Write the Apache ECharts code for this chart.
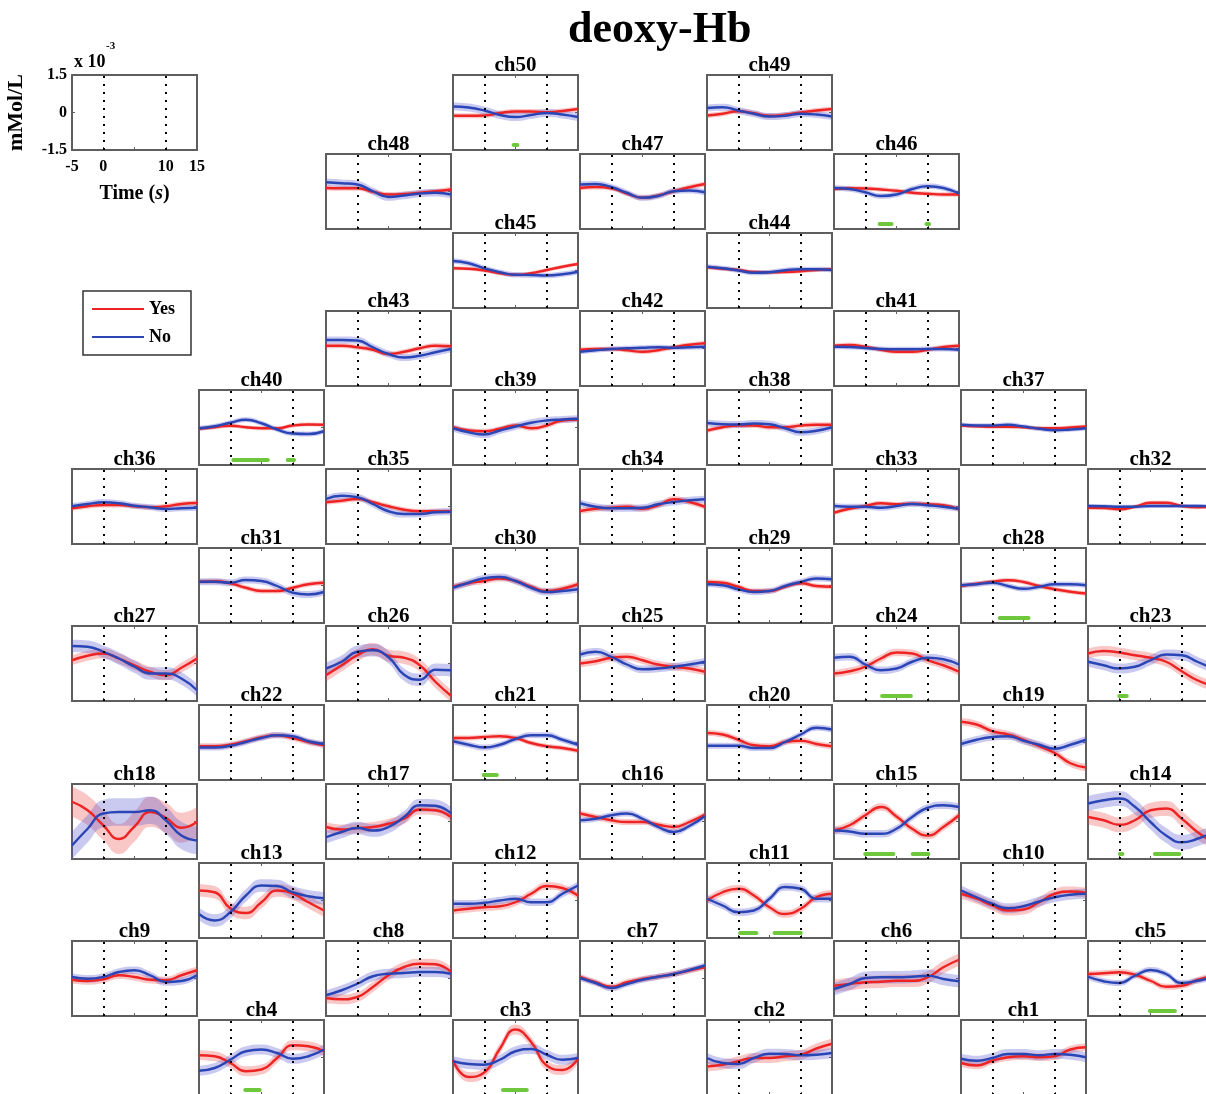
<!DOCTYPE html>
<html>
<head>
<meta charset="utf-8">
<title>deoxy-Hb</title>
<script src="https://cdn.jsdelivr.net/npm/echarts@6.0.0/dist/echarts.min.js"></script>
<style>
html,body{margin:0;padding:0;background:#ffffff;}
#chart{width:1206px;height:1094px;}
</style>
</head>
<body>
<div id="chart"></div>
<script>
// ---------------- DATA (units: x10^-3 mMol/L) ----------------
const timeS = [-5, -2.5, 0, 2.5, 5, 7.5, 10, 12.5, 15];
const stimulusOnOff = [0, 10];
const keyXTicks = [-5, 0, 10, 15];
const keyYTicks = [-1.5, 0, 1.5];

const yesCh1 = [-0.22,-0.32,-0.13,0.01,0.05,0.01,0.05,0.32,0.41];
const noCh1  = [-0.05,-0.13,-0.02,0.14,0.14,0.09,0.14,0.11,0.01];
const yesCh2 = [-0.36,-0.29,-0.15,-0.02,-0.02,0.05,0.11,0.36,0.55];
const noCh2  = [-0.02,-0.22,-0.26,-0.02,0.15,0.14,0.09,0.11,0.18];
const yesCh3 = [-0.12,-0.78,-0.6,0.35,1.12,0.62,-0.32,-0.5,-0.05];
const noCh3  = [-0.15,-0.26,-0.29,-0.09,0.25,0.34,0.11,-0.09,-0.02];
const yesCh4 = [0.09,0.05,-0.22,-0.55,-0.48,-0.02,0.49,0.45,0.25];
const noCh4  = [-0.53,-0.42,-0.09,0.25,0.32,0.18,-0.05,0.05,0.32];
const yesCh5 = [0.18,0.21,0.25,0.15,-0.09,-0.33,-0.29,-0.06,0.11];
const noCh5  = [0.07,-0.11,-0.18,0.11,0.34,0.18,-0.18,-0.09,0.05];
const yesCh6 = [-0.29,-0.22,-0.15,-0.13,-0.09,-0.09,0.05,0.45,0.75];
const noCh6  = [-0.42,-0.22,0.02,0.05,0.05,0.07,0.11,-0.02,-0.11];
const yesCh7 = [0.07,-0.15,-0.33,-0.15,-0.02,0.07,0.18,0.32,0.45];
const noCh7  = [0.02,-0.18,-0.38,-0.22,-0.05,0.07,0.18,0.34,0.52];
const yesCh8 = [-0.78,-0.83,-0.74,-0.34,0.13,0.46,0.59,0.57,0.26];
const noCh8  = [-0.67,-0.47,-0.21,0.09,0.19,0.22,0.26,0.26,0.19];
const yesCh9 = [-0.05,-0.1,-0.03,0.13,0.06,-0.05,-0.07,0.13,0.33];
const noCh9  = [0.06,-0.01,0.06,0.26,0.33,0.13,-0.14,-0.1,0.13];
const yesCh10 = [0.27,0.07,-0.2,-0.4,-0.36,-0.07,0.27,0.36,0.31];
const noCh10  = [0.4,0.13,-0.13,-0.31,-0.23,-0.04,0.13,0.23,0.27];
const yesCh11 = [0,0.33,0.47,0.2,-0.27,-0.54,-0.33,0.13,0.27];
const noCh11  = [0.07,-0.2,-0.47,-0.4,0.07,0.54,0.47,0.07,0.07];
const yesCh12 = [-0.4,-0.33,-0.27,-0.23,-0.07,0.27,0.58,0.5,0.2];
const noCh12  = [-0.13,-0.13,-0.09,0,0.07,-0.07,-0.07,0.27,0.6];
const yesCh13 = [0.4,0.33,-0.31,-0.5,-0.07,0.4,0.27,-0.07,-0.4];
const noCh13  = [-0.54,-0.8,-0.47,0.2,0.6,0.58,0.33,0.17,0.09];
const yesCh14 = [0.18,0.05,-0.13,0.05,0.45,0.52,0.11,-0.42,-0.83];
const noCh14  = [0.72,0.85,0.92,0.59,-0.02,-0.56,-0.83,-0.69,-0.42];
const yesCh15 = [-0.36,-0.15,0.25,0.58,0.2,-0.29,-0.56,-0.22,0.25];
const noCh15  = [-0.36,-0.4,-0.49,-0.49,-0.29,0.18,0.55,0.65,0.58];
const yesCh16 = [0.32,0.18,0.05,-0.02,-0.02,-0.13,-0.22,-0.02,0.28];
const noCh16  = [0.05,0.11,0.25,0.32,0.11,-0.22,-0.42,-0.18,0.22];
const yesCh17 = [-0.22,-0.32,-0.26,-0.22,-0.09,0.11,0.48,0.45,0.18];
const noCh17  = [-0.63,-0.42,-0.26,-0.36,-0.22,0.18,0.65,0.63,0.32];
const yesCh18 = [0.79,0.45,-0.15,-0.7,-0.2,0.38,0.15,-0.25,-0.02];
const noCh18  = [-0.96,-0.29,0.32,0.38,0.38,0.45,0.05,-0.56,-0.76];
const yesCh19 = [0.83,0.72,0.45,0.32,0.11,-0.15,-0.42,-0.83,-1.0];
const noCh19  = [-0.06,0.11,0.22,0.25,0.07,-0.09,-0.25,-0.09,0.11];
const yesCh20 = [0.38,0.32,0.11,-0.11,-0.15,0.02,0.07,-0.06,-0.15];
const noCh20  = [-0.13,-0.13,-0.13,-0.22,-0.22,0.02,0.32,0.59,0.52];
const yesCh21 = [0.18,0.18,0.22,0.25,0.18,-0.02,-0.15,-0.22,-0.33];
const noCh21  = [0.05,-0.09,-0.2,-0.09,0.14,0.29,0.29,0.11,-0.09];
const yesCh22 = [-0.15,-0.15,-0.09,0.05,0.21,0.29,0.18,0.02,-0.11];
const noCh22  = [-0.2,-0.2,-0.13,0.02,0.18,0.29,0.25,0.05,-0.06];
const yesCh23 = [0.4,0.5,0.44,0.33,0.23,0.07,-0.31,-0.67,-0.9];
const noCh23  = [0.07,-0.07,-0.2,-0.13,0.13,0.36,0.33,0.07,-0.2];
const yesCh24 = [-0.4,-0.31,-0.13,0.2,0.44,0.4,0.13,-0.07,-0.33];
const noCh24  = [0.23,0.27,-0.04,-0.27,-0.2,0.07,0.23,0.17,-0.04];
const yesCh25 = [0,0.09,0.23,0.27,0.13,-0.04,-0.13,-0.2,-0.33];
const noCh25  = [0.36,0.47,0.27,-0.04,-0.23,-0.2,-0.13,-0.04,0.07];
const yesCh26 = [-0.47,-0.07,0.33,0.57,0.31,0.23,-0.07,-0.73,-1.29];
const noCh26  = [-0.2,0.07,0.47,0.53,0.25,-0.45,-0.65,-0.25,-0.27];
const yesCh27 = [0.13,0.31,0.4,0.2,-0.07,-0.33,-0.47,-0.17,0.2];
const noCh27  = [0.7,0.67,0.47,0.2,-0.13,-0.4,-0.4,-0.6,-1.07];
const yesCh28 = [-0.02,0.07,0.15,0.21,0.14,-0.02,-0.15,-0.25,-0.32];
const noCh28  = [0.01,0.05,0.11,-0.02,-0.13,-0.05,0.05,0.05,0.01];
const yesCh29 = [0.14,0.11,-0.05,-0.22,-0.22,-0.05,0.09,-0.02,-0.05];
const noCh29  = [0.05,0.01,-0.15,-0.26,-0.22,-0.02,0.14,0.28,0.25];
const yesCh30 = [-0.05,0.09,0.18,0.28,0.18,-0.05,-0.22,-0.13,0.05];
const noCh30  = [-0.09,0.11,0.29,0.34,0.18,-0.09,-0.26,-0.22,-0.15];
const yesCh31 = [0.15,0.17,0.09,-0.09,-0.22,-0.22,-0.09,0.05,0.11];
const noCh31  = [0.15,0.15,0.11,0.22,0.18,-0.02,-0.29,-0.36,-0.26];
const yesCh32 = [-0.05,-0.06,-0.11,-0.01,0.15,0.15,0.02,-0.03,-0.01];
const noCh32  = [0.02,0.01,-0.01,-0.01,0.02,0.02,0.02,0.02,0];
const yesCh33 = [-0.25,-0.09,0.02,0.13,0.09,0.11,0.09,0.05,-0.11];
const noCh33  = [0.02,-0.01,-0.01,-0.05,0.02,0.1,0.05,-0.01,-0.09];
const yesCh34 = [-0.18,-0.09,-0.05,-0.01,-0.09,0.05,0.29,0.18,-0.01];
const noCh34  = [0.13,-0.01,-0.07,-0.07,-0.05,0.09,0.18,0.25,0.29];
const yesCh35 = [0.17,0.23,0.3,0.17,0.01,-0.13,-0.19,-0.19,-0.19];
const noCh35  = [0.3,0.43,0.37,0.1,-0.19,-0.3,-0.3,-0.23,-0.21];
const yesCh36 = [-0.07,0.01,0.06,0.06,0.01,-0.03,0.01,0.1,0.14];
const noCh36  = [0.01,0.1,0.17,0.13,0.03,-0.03,-0.1,-0.07,-0.05];
const yesCh37 = [0.08,0.05,0.03,0.03,0.01,-0.03,-0.03,0,0.04];
const noCh37  = [0.11,0.08,0.08,0.11,0.04,-0.05,-0.11,-0.08,-0.03];
const yesCh38 = [-0.12,0.01,0.08,0.08,0.01,0.01,0.08,0.11,0.11];
const noCh38  = [0.18,0.13,0.12,0.16,0.13,-0.03,-0.19,-0.13,0.01];
const yesCh39 = [0.01,-0.12,-0.15,-0.05,0.08,-0.03,0.08,0.28,0.32];
const noCh39  = [-0.03,-0.19,-0.28,-0.12,0.04,0.19,0.28,0.32,0.35];
const yesCh40 = [-0.05,0.01,0.07,0.01,-0.03,-0.03,0.08,0.12,0.11];
const noCh40  = [-0.03,0.05,0.19,0.31,0.17,-0.08,-0.24,-0.26,-0.15];
const yesCh41 = [0.11,0.14,0.07,-0.05,-0.13,-0.13,-0.05,0.06,0.11];
const noCh41  = [0.07,0.06,0.02,-0.02,-0.03,-0.03,-0.02,-0.02,-0.05];
const yesCh42 = [-0.05,-0.02,-0.02,-0.07,-0.13,-0.07,0.05,0.15,0.21];
const noCh42  = [-0.13,-0.07,-0.02,0.01,0.03,0.05,0.03,0.05,0.07];
const yesCh43 = [0.11,0.11,0.05,-0.05,-0.22,-0.13,0.01,0.11,0.09];
const noCh43  = [0.34,0.34,0.32,0.05,-0.22,-0.36,-0.29,-0.15,-0.02];
const yesCh44 = [0.13,0.07,0.02,-0.06,-0.07,-0.06,-0.03,0.02,0.05];
const noCh44  = [0.15,0.09,0,-0.09,-0.07,0.01,0.05,0.05,0.02];
const yesCh45 = [0.09,0.07,0,-0.11,-0.17,-0.11,0.02,0.15,0.26];
const noCh45  = [0.38,0.29,0.09,-0.07,-0.17,-0.18,-0.2,-0.15,-0.05];
const yesCh46 = [0.1,0.13,0.12,0.08,0.03,-0.05,-0.09,-0.12,-0.12];
const noCh46  = [0.14,0.1,-0.03,-0.18,-0.12,0.1,0.21,0.14,-0.08];
const yesCh47 = [0.14,0.18,0.13,-0.08,-0.25,-0.16,0.01,0.17,0.3];
const noCh47  = [0.28,0.3,0.18,-0.05,-0.25,-0.18,0.01,0.04,-0.03];
const yesCh48 = [0.14,0.13,0.13,-0.01,-0.12,-0.1,-0.05,0.01,0.08];
const noCh48  = [0.37,0.33,0.28,0.01,-0.22,-0.16,-0.08,-0.05,-0.12];
const yesCh49 = [-0.12,-0.05,0.05,-0.03,-0.13,-0.09,0,0.08,0.14];
const noCh49  = [0.18,0.21,0.08,-0.05,-0.16,-0.13,-0.05,-0.08,-0.16];
const yesCh50 = [-0.13,-0.13,-0.12,-0.02,0.04,0.04,0.01,0.06,0.14];
const noCh50  = [0.24,0.2,0.08,-0.1,-0.18,-0.1,-0.02,-0.08,-0.18];

// half-width of the shaded error band, per channel (ch1 .. ch50)
const bandYes = [0.15,0.2,0.2,0.2,0.12,0.25,0.12,0.2,0.15,0.2,
                 0.15,0.15,0.25,0.3,0.15,0.12,0.2,0.6,0.15,0.12,
                 0.1,0.12,0.2,0.15,0.15,0.25,0.2,0.09,0.1,0.12,
                 0.1,0.08,0.09,0.12,0.1,0.1,0.08,0.1,0.1,0.08,
                 0.09,0.09,0.1,0.08,0.08,0.09,0.1,0.1,0.1,0.1];
const bandNo  = [0.2,0.2,0.2,0.2,0.12,0.25,0.12,0.2,0.15,0.2,
                 0.15,0.15,0.25,0.3,0.15,0.12,0.25,0.55,0.15,0.12,
                 0.12,0.12,0.2,0.15,0.15,0.25,0.25,0.11,0.12,0.14,
                 0.14,0.08,0.12,0.14,0.14,0.12,0.09,0.14,0.14,0.1,
                 0.1,0.1,0.14,0.1,0.11,0.11,0.12,0.15,0.14,0.16];

// significant time windows (s)
const sigCh3  = [[3.0, 6.8]];
const sigCh4  = [[2.4, 4.7]];
const sigCh5  = [[4.9, 8.9]];
const sigCh11 = [[0.3, 2.9], [5.8, 10.0]];
const sigCh14 = [[0.1, 0.5], [5.7, 9.6]];
const sigCh15 = [[0.0, 4.5], [7.6, 10.1]];
const sigCh21 = [[-0.1, 2.0]];
const sigCh23 = [[0.0, 1.2]];
const sigCh24 = [[2.7, 7.3]];
const sigCh28 = [[1.2, 5.8]];
const sigCh40 = [[0.5, 6.0], [9.2, 10.2]];
const sigCh46 = [[2.3, 4.2], [9.8, 10.2]];
const sigCh50 = [[4.7, 5.3]];

const YES = [null, yesCh1,yesCh2,yesCh3,yesCh4,yesCh5,yesCh6,yesCh7,yesCh8,yesCh9,yesCh10,
  yesCh11,yesCh12,yesCh13,yesCh14,yesCh15,yesCh16,yesCh17,yesCh18,yesCh19,yesCh20,
  yesCh21,yesCh22,yesCh23,yesCh24,yesCh25,yesCh26,yesCh27,yesCh28,yesCh29,yesCh30,
  yesCh31,yesCh32,yesCh33,yesCh34,yesCh35,yesCh36,yesCh37,yesCh38,yesCh39,yesCh40,
  yesCh41,yesCh42,yesCh43,yesCh44,yesCh45,yesCh46,yesCh47,yesCh48,yesCh49,yesCh50];
const NO = [null, noCh1,noCh2,noCh3,noCh4,noCh5,noCh6,noCh7,noCh8,noCh9,noCh10,
  noCh11,noCh12,noCh13,noCh14,noCh15,noCh16,noCh17,noCh18,noCh19,noCh20,
  noCh21,noCh22,noCh23,noCh24,noCh25,noCh26,noCh27,noCh28,noCh29,noCh30,
  noCh31,noCh32,noCh33,noCh34,noCh35,noCh36,noCh37,noCh38,noCh39,noCh40,
  noCh41,noCh42,noCh43,noCh44,noCh45,noCh46,noCh47,noCh48,noCh49,noCh50];
const SIG = {3:sigCh3, 4:sigCh4, 5:sigCh5, 11:sigCh11, 14:sigCh14, 15:sigCh15, 21:sigCh21,
  23:sigCh23, 24:sigCh24, 28:sigCh28, 40:sigCh40, 46:sigCh46, 50:sigCh50};

// ---------------- LAYOUT (row list of [column, channel]) ----------------
const PANEL_ROWS = [
  [[3,50],[5,49]],
  [[2,48],[4,47],[6,46]],
  [[3,45],[5,44]],
  [[2,43],[4,42],[6,41]],
  [[1,40],[3,39],[5,38],[7,37]],
  [[0,36],[2,35],[4,34],[6,33],[8,32]],
  [[1,31],[3,30],[5,29],[7,28]],
  [[0,27],[2,26],[4,25],[6,24],[8,23]],
  [[1,22],[3,21],[5,20],[7,19]],
  [[0,18],[2,17],[4,16],[6,15],[8,14]],
  [[1,13],[3,12],[5,11],[7,10]],
  [[0,9],[2,8],[4,7],[6,6],[8,5]],
  [[1,4],[3,3],[5,2],[7,1]]
];

const FONT = '"Liberation Serif","Times New Roman",serif';
const RED = '#ee2424', BLUE = '#2a46b6';
const RED_BAND = 'rgba(240,70,70,0.30)', BLUE_BAND = 'rgba(80,80,205,0.30)';
const GREEN = '#6fc83c';
const FRAME = '#5e5e5e';
const PANEL_W = 125, PANEL_H = 75, COL_X0 = 72, COL_STEP = 127, ROW_Y0 = 75, ROW_STEP = 78.75;
const SIG_LEVEL = -1.3;

const grid = [], xAxis = [], yAxis = [], series = [], graphic = [];

function addPanel(col, row) {
  const g = grid.length;
  const left = COL_X0 + COL_STEP * col;
  const top = Math.round(ROW_Y0 + ROW_STEP * row);
  grid.push({left: left, top: top, width: PANEL_W, height: PANEL_H, show: true,
    borderColor: FRAME, borderWidth: 2, backgroundColor: 'rgba(0,0,0,0)',
    containLabel: false, outerBoundsMode: 'none'});
  return {g: g, left: left, top: top};
}
function ticks() { return {show: true, inside: true, length: 3, lineStyle: {color: FRAME, width: 1}}; }
function hiddenLine() { return {show: false, onZero: false}; }
function addStim(vx, yi) {
  series.push({type: 'line', xAxisIndex: vx, yAxisIndex: yi, data: [], silent: true, z: 2,
    markLine: {silent: true, symbol: ['none', 'none'], label: {show: false}, animation: false,
      lineStyle: {color: '#000', type: [2, 6], width: 2},
      emphasis: {disabled: true},
      data: stimulusOnOff.map(t => ({xAxis: t}))}});
}

// ---- key panel ----
const key = addPanel(0, 0);
xAxis.push({type: 'value', gridIndex: key.g, min: -5, max: 15, interval: 5, position: 'bottom',
  axisLine: hiddenLine(), splitLine: {show: false}, axisTick: ticks(),
  axisLabel: {show: true, margin: 9, color: '#000', fontFamily: FONT, fontWeight: 'bold', fontSize: 16,
    formatter: v => keyXTicks.includes(v) ? String(v) : ''},
  name: 'Time ({i|s})', nameLocation: 'middle', nameGap: 34,
  nameTextStyle: {color: '#000', fontFamily: FONT, fontWeight: 'bold', fontSize: 20,
    rich: {i: {fontStyle: 'italic', fontFamily: FONT, fontWeight: 'bold', fontSize: 20, color: '#000'}}}});
const keyVX = xAxis.length - 1;
yAxis.push({type: 'value', gridIndex: key.g, min: -1.5, max: 1.5, interval: 1.5,
  axisLine: hiddenLine(), splitLine: {show: false}, axisTick: ticks(),
  axisLabel: {show: true, margin: 5, color: '#000', fontFamily: FONT, fontWeight: 'bold', fontSize: 16,
    formatter: v => keyYTicks.includes(v) ? String(v) : ''},
  name: 'mMol/L', nameLocation: 'middle', nameGap: 45, nameRotate: 90,
  nameTextStyle: {color: '#000', fontFamily: FONT, fontWeight: 'bold', fontSize: 22}});
addStim(keyVX, yAxis.length - 1);

// ---- channel panels ----
PANEL_ROWS.forEach((rowList, row) => {
  rowList.forEach(([col, ch]) => {
    const p = addPanel(col, row);
    xAxis.push({type: 'category', gridIndex: p.g, data: timeS.map(String), boundaryGap: false,
      position: 'bottom', axisLine: hiddenLine(), axisLabel: {show: false}, splitLine: {show: false},
      axisTick: Object.assign(ticks(), {interval: 1})});
    const cx = xAxis.length - 1;
    xAxis.push({type: 'value', gridIndex: p.g, min: -5, max: 15, interval: 5, position: 'top',
      axisLine: hiddenLine(), axisLabel: {show: false}, splitLine: {show: false}, axisTick: ticks()});
    const vx = xAxis.length - 1;
    yAxis.push({type: 'value', gridIndex: p.g, min: -1.5, max: 1.5, interval: 1.5, position: 'right',
      axisLine: hiddenLine(), axisLabel: {show: false}, splitLine: {show: false}, axisTick: ticks()});
    const yi = yAxis.length - 1;

    const groups = [
      {name: 'Yes', vals: YES[ch], band: bandYes[ch - 1], line: RED, fill: RED_BAND},
      {name: 'No', vals: NO[ch], band: bandNo[ch - 1], line: BLUE, fill: BLUE_BAND}
    ];
    groups.forEach(gr => {
      const stackId = gr.name + ch;
      series.push({type: 'line', xAxisIndex: cx, yAxisIndex: yi, stack: stackId, stackStrategy: 'all',
        data: gr.vals.map(v => v - gr.band), smooth: true, symbol: 'none', silent: true, z: 1,
        lineStyle: {width: 0, opacity: 0}});
      series.push({type: 'line', xAxisIndex: cx, yAxisIndex: yi, stack: stackId, stackStrategy: 'all',
        data: gr.vals.map(() => 2 * gr.band), smooth: true, symbol: 'none', silent: true, z: 1,
        lineStyle: {width: 0, opacity: 0}, areaStyle: {color: gr.fill, opacity: 1}});
    });
    groups.forEach(gr => {
      series.push({type: 'line', name: gr.name, xAxisIndex: cx, yAxisIndex: yi, data: gr.vals,
        smooth: true, symbol: 'none', z: 3, itemStyle: {color: gr.line},
        lineStyle: {color: gr.line, width: 2.4}});
    });
    addStim(vx, yi);
    (SIG[ch] || []).forEach(([s, e]) => {
      series.push({type: 'line', xAxisIndex: vx, yAxisIndex: yi, data: [[s, SIG_LEVEL], [e, SIG_LEVEL]],
        symbol: 'none', silent: true, z: 4, lineStyle: {color: GREEN, width: 4, cap: 'round'}});
    });
    graphic.push({type: 'text', x: p.left + PANEL_W / 2, y: p.top + 1, silent: true,
      style: {text: 'ch' + ch, fill: '#000', fontFamily: FONT, fontWeight: 'bold', fontSize: 21,
        align: 'center', verticalAlign: 'bottom', textAlign: 'center', textVerticalAlign: 'bottom'}});
  });
});

graphic.push({type: 'text', x: 74, y: 62, silent: true,
  style: {text: 'x 10', fill: '#000', fontFamily: FONT, fontWeight: 'bold', fontSize: 18,
    verticalAlign: 'middle', textVerticalAlign: 'middle'}});
graphic.push({type: 'text', x: 106, y: 46, silent: true,
  style: {text: '-3', fill: '#000', fontFamily: FONT, fontWeight: 'bold', fontSize: 11,
    verticalAlign: 'middle', textVerticalAlign: 'middle'}});

const option = {
  animation: false,
  backgroundColor: '#ffffff',
  title: {text: 'deoxy-Hb', left: 568, top: 9, padding: 0,
    textStyle: {fontFamily: FONT, fontWeight: 'bold', fontSize: 44, color: '#000'}},
  legend: {data: ['Yes', 'No'], orient: 'vertical', left: 83, top: 291, padding: [9, 16, 9, 9],
    itemGap: 10, itemWidth: 52, itemHeight: 2, icon: 'rect', borderColor: '#333', borderWidth: 1.5,
    backgroundColor: '#fff',
    textStyle: {color: '#000', fontFamily: FONT, fontWeight: 'bold', fontSize: 18}},
  grid: grid, xAxis: xAxis, yAxis: yAxis, series: series, graphic: graphic
};

const chart = echarts.init(document.getElementById('chart'), null, {renderer: 'canvas'});
chart.setOption(option);
</script>
</body>
</html>
